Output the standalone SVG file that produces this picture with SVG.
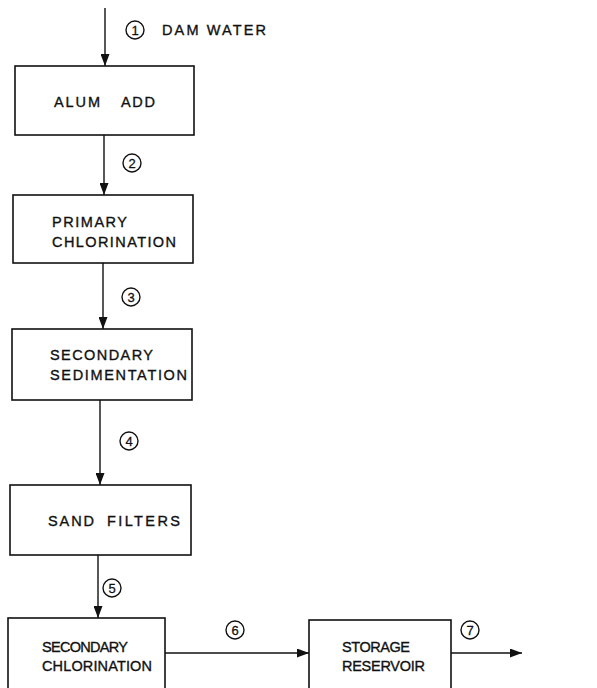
<svg xmlns="http://www.w3.org/2000/svg" width="597" height="688" viewBox="0 0 597 688">
<style>
.box{fill:none;stroke:#111;stroke-width:1.6}
.ln{fill:none;stroke:#111;stroke-width:1.4}
.t{font-family:"Liberation Sans",Arial,sans-serif;font-size:14.5px;fill:#111;stroke:#111;stroke-width:0.35}
.c{fill:none;stroke:#111;stroke-width:1.4}
.d{font-family:"Liberation Sans",Arial,sans-serif;font-size:13px;fill:#111;text-anchor:middle;stroke:#111;stroke-width:0.3}
</style>
<defs>
<marker id="ah" markerWidth="12" markerHeight="9" refX="12" refY="4.5" orient="auto" markerUnits="userSpaceOnUse">
<path d="M0,0 L12,4.5 L0,9 Z" fill="#111"/>
</marker>
</defs>
<rect width="597" height="688" fill="#fff"/>
<g id="connectors">
<line class="ln" x1="105" y1="8" x2="105" y2="66" marker-end="url(#ah)"/>
<line class="ln" x1="104" y1="135" x2="104" y2="195" marker-end="url(#ah)"/>
<line class="ln" x1="103" y1="263" x2="103" y2="329" marker-end="url(#ah)"/>
<line class="ln" x1="100" y1="400" x2="100" y2="485" marker-end="url(#ah)"/>
<line class="ln" x1="98" y1="555" x2="98" y2="618" marker-end="url(#ah)"/>
<line class="ln" x1="165" y1="653" x2="309" y2="653" marker-end="url(#ah)"/>
<line class="ln" x1="451" y1="653" x2="522" y2="653" marker-end="url(#ah)"/>
</g>
<g id="labels">
<g id="l1"><circle class="c" cx="135" cy="30" r="9"/><text class="d" x="135" y="34.7">1</text><text class="t" x="162" y="35" textLength="104" lengthAdjust="spacing">DAM WATER</text></g>
<g id="l2"><circle class="c" cx="132" cy="163" r="9"/><text class="d" x="132" y="167.7">2</text></g>
<g id="l3"><circle class="c" cx="131" cy="297" r="9"/><text class="d" x="131" y="301.7">3</text></g>
<g id="l4"><circle class="c" cx="129" cy="441" r="9"/><text class="d" x="129" y="445.7">4</text></g>
<g id="l5"><circle class="c" cx="112" cy="588" r="9"/><text class="d" x="112" y="592.7">5</text></g>
<g id="l6"><circle class="c" cx="235" cy="630" r="9"/><text class="d" x="235" y="634.7">6</text></g>
<g id="l7"><circle class="c" cx="470" cy="630" r="9"/><text class="d" x="470" y="634.7">7</text></g>
</g>
<g id="alum-add">
<rect class="box" x="15" y="66" width="179" height="69"/>
<text class="t" x="54" y="107" textLength="46" lengthAdjust="spacing">ALUM</text>
<text class="t" x="121" y="107" textLength="34" lengthAdjust="spacing">ADD</text>
</g>
<g id="primary-chlorination">
<rect class="box" x="13" y="195" width="180" height="68"/>
<text class="t" x="52" y="227" textLength="75" lengthAdjust="spacing">PRIMARY</text>
<text class="t" x="52" y="247" textLength="124" lengthAdjust="spacing">CHLORINATION</text>
</g>
<g id="secondary-sedimentation">
<rect class="box" x="12" y="329" width="180" height="71"/>
<text class="t" x="50" y="360" textLength="103" lengthAdjust="spacing">SECONDARY</text>
<text class="t" x="50" y="380" textLength="137" lengthAdjust="spacing">SEDIMENTATION</text>
</g>
<g id="sand-filters">
<rect class="box" x="10" y="485" width="181" height="70"/>
<text class="t" x="48" y="526" textLength="46" lengthAdjust="spacing">SAND</text>
<text class="t" x="107" y="526" textLength="73" lengthAdjust="spacing">FILTERS</text>
</g>
<g id="secondary-chlorination">
<rect class="box" x="8" y="618" width="157" height="80"/>
<text class="t" x="42" y="652" textLength="86" lengthAdjust="spacing">SECONDARY</text>
<text class="t" x="42" y="671" textLength="110" lengthAdjust="spacing">CHLORINATION</text>
</g>
<g id="storage-reservoir">
<rect class="box" x="309" y="620" width="142" height="80"/>
<text class="t" x="342" y="652" textLength="68" lengthAdjust="spacing">STORAGE</text>
<text class="t" x="342" y="671" textLength="83" lengthAdjust="spacing">RESERVOIR</text>
</g>
</svg>
